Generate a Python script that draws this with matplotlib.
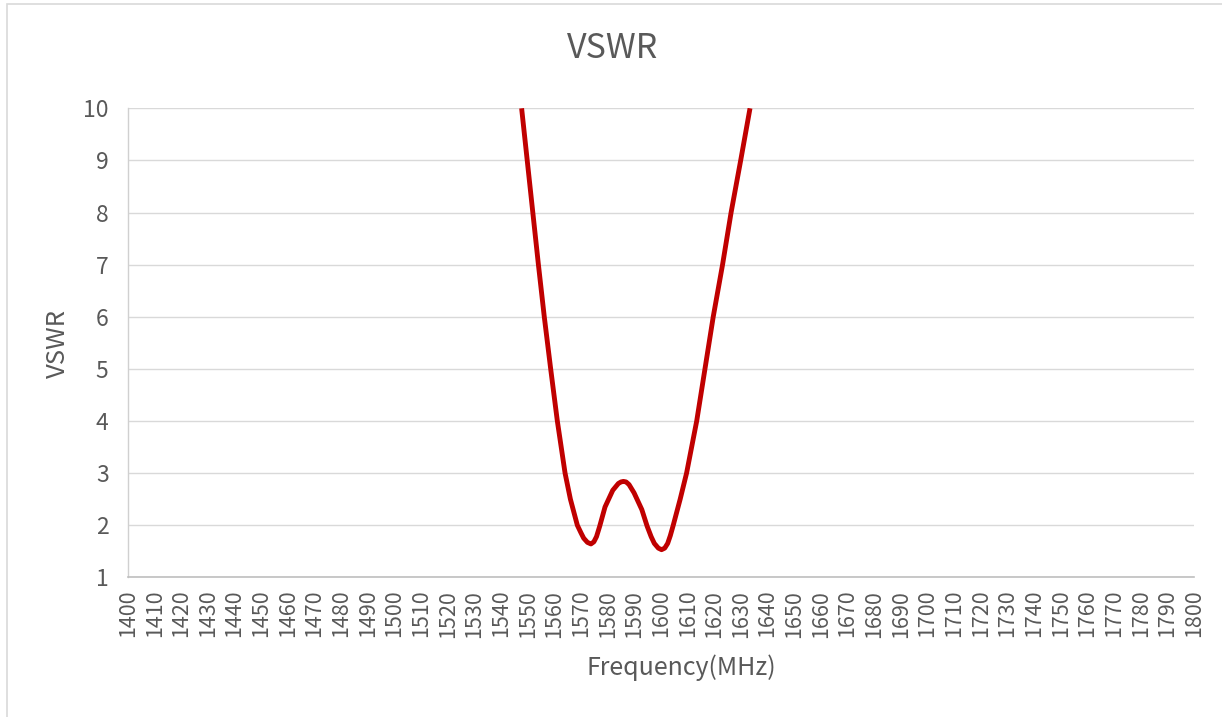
import numpy as np
import matplotlib
matplotlib.use('Agg')
import matplotlib.pyplot as plt
from matplotlib.patches import Rectangle

# VSWR vs frequency
freq_mhz = [1547.7, 1549.8, 1551.9, 1554.0, 1556.2, 1558.6, 1561.1, 1564.0, 1566.0,
            1568.6, 1570.0, 1571.0, 1572.4, 1573.7, 1574.8, 1575.8, 1577.0, 1579.0,
            1581.9, 1584.0, 1585.0, 1585.9, 1586.9, 1588.0, 1589.9, 1592.8, 1594.8,
            1596.3, 1597.5, 1599.0, 1600.2, 1601.4, 1602.5, 1603.5, 1604.6, 1607.2,
            1609.6, 1613.4, 1616.5, 1619.6, 1623.1, 1626.3, 1629.9, 1633.4]
vswr = [10.0, 9.0, 8.0, 7.0, 6.0, 5.0, 4.0, 3.0, 2.5,
        2.0, 1.85, 1.75, 1.67, 1.64, 1.68, 1.78, 1.98, 2.35,
        2.67, 2.80, 2.83, 2.84, 2.83, 2.78, 2.62, 2.30, 1.98,
        1.78, 1.65, 1.56, 1.53, 1.56, 1.65, 1.80, 2.0, 2.5,
        3.0, 4.0, 5.0, 6.0, 7.0, 8.0, 9.0, 10.0]
x_ticks = list(range(1400, 1801, 10))
y_ticks = list(range(1, 11))

TXT = '#595959'
plt.rcParams['font.family'] = ['Noto Sans CJK SC', 'DejaVu Sans']

W, H = 1222, 717
fig = plt.figure(figsize=(W / 100, H / 100), dpi=100)
fig.patch.set_facecolor('white')
# chart area border (only top/left visible in the crop)
fig.patches.append(Rectangle((7 / W, -0.1), 1.2, 1 - 4 / H + 0.1, transform=fig.transFigure,
                             fill=False, edgecolor='#D9D9D9', linewidth=1.2))

ax = fig.add_axes([128 / W, 1 - 577.3 / H, (1194 - 128) / W, (577.3 - 108.3) / H])
ax.plot(freq_mhz, vswr, color='#C00000', linewidth=3.5, solid_capstyle='butt',
        solid_joinstyle='round', zorder=3)

ax.set_xlim(1400, 1800)
ax.set_ylim(1, 10)
ax.set_xticks(x_ticks)
ax.set_xticklabels([str(v) for v in x_ticks], rotation=90, fontsize=15.5, color=TXT)
ax.set_yticks(y_ticks)
ax.set_yticklabels([str(v) for v in y_ticks], fontsize=16.5, color=TXT)
ax.tick_params(axis='x', length=0, pad=9)
ax.tick_params(axis='y', length=0, pad=14)

ax.grid(axis='y', color='#D9D9D9', linewidth=1.0)
ax.set_axisbelow(True)
for s in ['top', 'right']:
    ax.spines[s].set_visible(False)
ax.spines['left'].set_color('#D0D0D0')
ax.spines['bottom'].set_color('#BFBFBF')
ax.spines['left'].set_linewidth(1.0)
ax.spines['bottom'].set_linewidth(1.2)

fig.text(613 / W, 1 - 49 / H, 'VSWR', ha='center', va='center', fontsize=24.5, color=TXT)
fig.text(681 / W, 1 - 668 / H, 'Frequency(MHz)', ha='center', va='center', fontsize=18, color=TXT)
fig.text(58 / W, 1 - 343 / H, 'VSWR', ha='center', va='center', rotation=90, fontsize=18.5, color=TXT)

fig.savefig('out.png', dpi=100, facecolor='white')
